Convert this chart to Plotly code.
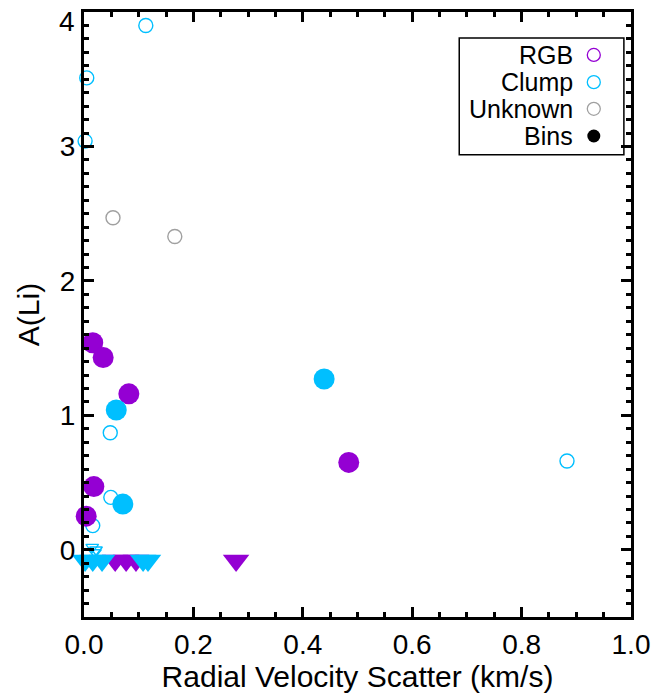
import plotly.graph_objects as go

# ---- data ----
rgb_bin_x = [0.016, 0.035, 0.082, 0.018, 0.004, 0.484]
rgb_bin_y = [1.54, 1.43, 1.16, 0.47, 0.25, 0.65]

clump_bin_x = [0.059, 0.071, 0.439]
clump_bin_y = [1.04, 0.34, 1.27]

clump_x = [0.113, 0.005, 0.002, 0.048, 0.049, 0.016, 0.883]
clump_y = [3.90, 3.51, 3.04, 0.87, 0.39, 0.18, 0.66]

unknown_x = [0.053, 0.166]
unknown_y = [2.47, 2.33]

clump_lim_open_x = [0.015, 0.022, 0.02]
clump_lim_open_y = [0.02, 0.0, -0.02]

rgb_lim_x = [0.057, 0.077, 0.095, 0.278]
rgb_lim_y = [-0.08, -0.08, -0.08, -0.08]

clump_lim_x = [0.002, 0.016, 0.033, 0.108, 0.117]
clump_lim_y = [-0.08, -0.08, -0.08, -0.08, -0.08]

x_tickvals = [0, 0.2, 0.4, 0.6, 0.8, 1.0]
x_ticktext = ["0.0", "0.2", "0.4", "0.6", "0.8", "1.0"]
y_tickvals = [0, 1, 2, 3, 4]
y_ticktext = ["0", "1", "2", "3", "4"]

legend_labels = ["RGB", "Clump", "Unknown", "Bins"]

PURPLE = "#9400D3"
CYAN = "#00BFFF"
GREY = "#A0A0A0"
FONT = "Liberation Sans, Arial, sans-serif"

fig = go.Figure()

def add(x, y, symbol, size, color, filled, lw=1.4):
    if filled:
        m = dict(symbol=symbol, size=size, color=color, line=dict(width=0))
    else:
        m = dict(symbol=symbol + "-open", size=size, color=color, line=dict(width=lw, color=color))
    fig.add_trace(go.Scatter(x=x, y=y, mode="markers", marker=m, cliponaxis=False, showlegend=False))

add(unknown_x, unknown_y, "circle", 14, GREY, False)
add(clump_x, clump_y, "circle", 14, CYAN, False)
add(clump_lim_open_x, clump_lim_open_y, "triangle-down", 11, CYAN, False)
add(rgb_lim_x, rgb_lim_y, "triangle-down", 23, PURPLE, True)
add(clump_lim_x, clump_lim_y, "triangle-down", 23, CYAN, True)
add(rgb_bin_x, rgb_bin_y, "circle", 21, PURPLE, True)
add(clump_bin_x, clump_bin_y, "circle", 21, CYAN, True)

# legend markers on an auxiliary hidden axis spanning the plot area
leg_x = [0.932, 0.932, 0.932, 0.932]
leg_y = [0.929, 0.884, 0.840, 0.795]
leg_colors = [PURPLE, CYAN, GREY, "black"]
for i in range(3):
    fig.add_trace(go.Scatter(x=[leg_x[i]], y=[leg_y[i]], xaxis="x2", yaxis="y2", mode="markers",
                             marker=dict(symbol="circle-open", size=13, color=leg_colors[i],
                                         line=dict(width=1.3, color=leg_colors[i])),
                             showlegend=False, cliponaxis=False))
fig.add_trace(go.Scatter(x=[leg_x[3]], y=[leg_y[3]], xaxis="x2", yaxis="y2", mode="markers",
                         marker=dict(symbol="circle", size=13, color="black"),
                         showlegend=False, cliponaxis=False))

for lab, yy in zip(legend_labels, leg_y):
    fig.add_annotation(x=0.898, y=yy, xref="paper", yref="paper", text=lab, showarrow=False,
                       xanchor="right", yanchor="middle", font=dict(family=FONT, size=25, color="black"))

fig.add_shape(type="rect", xref="paper", yref="paper", x0=0.686, x1=0.987, y0=0.764, y1=0.957,
              line=dict(color="black", width=1.5))

# top y tick label drawn slightly below the top edge (as in the reference) so it is not cut
fig.add_annotation(x=0, xref="paper", y=y_tickvals[-1], yref="y", text=y_ticktext[-1], showarrow=False,
                   xanchor="right", yanchor="middle", xshift=-7, yshift=-9,
                   font=dict(family=FONT, size=28, color="black"))

axis_common = dict(showline=True, linecolor="black", linewidth=3, mirror="allticks",
                   ticks="inside", ticklen=10, tickwidth=3, tickcolor="black",
                   showgrid=False, zeroline=False, automargin=False, ticklabeloverflow="allow",
                   tickfont=dict(family=FONT, size=28, color="black"))

fig.update_layout(
    width=670, height=696,
    margin=dict(l=84, r=39, t=12, b=79),
    plot_bgcolor="white", paper_bgcolor="white",
    xaxis=dict(range=[0, 1.0], tickvals=x_tickvals, ticktext=x_ticktext,
               minor=dict(dtick=0.05, ticks="inside", ticklen=5, tickwidth=2.5, tickcolor="black"),
               title=dict(text="Radial Velocity Scatter (km/s)", font=dict(family=FONT, size=30, color="black"),
                          standoff=2),
               **axis_common),
    yaxis=dict(range=[-0.5, 4.0], tickvals=y_tickvals, ticktext=y_ticktext[:-1] + [""],
               minor=dict(dtick=0.1, ticks="inside", ticklen=5, tickwidth=2.5, tickcolor="black"),
               title=dict(text="A(Li)", font=dict(family=FONT, size=30, color="black"), standoff=12),
               **axis_common),
    xaxis2=dict(domain=[0, 1], range=[0, 1], visible=False, anchor="y2", overlaying="x"),
    yaxis2=dict(domain=[0, 1], range=[0, 1], visible=False, anchor="x2", overlaying="y"),
)

fig.write_html("out.html")
